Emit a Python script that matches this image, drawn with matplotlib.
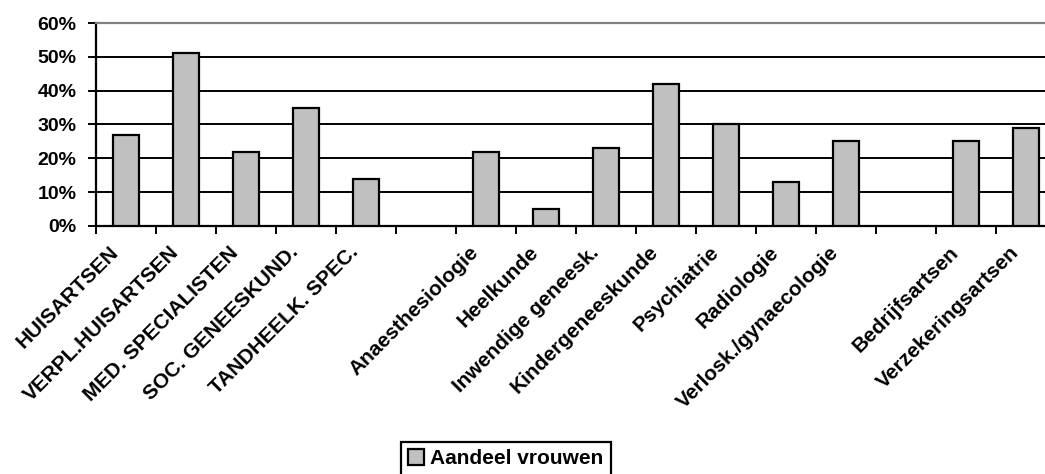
import numpy as np
import matplotlib
matplotlib.use("Agg")
import matplotlib.pyplot as plt
import matplotlib.transforms as mtransforms
from matplotlib.ticker import PercentFormatter

plt.rcParams["font.family"] = ["Liberation Sans", "DejaVu Sans"]
plt.rcParams["font.weight"] = "bold"

# beroepsgroepen, lege plekken als scheiding tussen de groepen
categories = ["HUISARTSEN", "VERPL.HUISARTSEN", "MED. SPECIALISTEN",
              "SOC. GENEESKUND.", "TANDHEELK. SPEC.", "",
              "Anaesthesiologie", "Heelkunde", "Inwendige geneesk.",
              "Kindergeneeskunde", "Psychiatrie", "Radiologie",
              "Verlosk./gynaecologie", "", "Bedrijfsartsen",
              "Verzekeringsartsen"]
aandeel = [27, 51, 22, 35, 14, np.nan, 22, 5, 23, 42, 30, 13, 25, np.nan, 25, 29]
yticks = [0, 10, 20, 30, 40, 50, 60]

fig = plt.figure(figsize=(10.45, 4.74), dpi=100)
ax = fig.add_axes([96 / 1045, 248 / 474, 960 / 1045, 203 / 474])

x = np.arange(len(categories))
ax.bar(x, aandeel, width=0.42, color="#C0C0C0", edgecolor="black",
       linewidth=1.6, zorder=3, label="Aandeel vrouwen")

ax.set_xlim(-0.5, len(categories) - 0.5)
ax.set_ylim(0, 60)
ax.set_yticks(yticks)
ax.yaxis.set_major_formatter(PercentFormatter(decimals=0))
ax.grid(axis="y", color="black", linewidth=1.4, zorder=0)

# streepjes tussen de categorieen, labels in het midden
ax.set_xticks(x)
ax.set_xticks(np.arange(len(categories) + 1) - 0.5, minor=True)
ax.tick_params(axis="x", which="major", length=0, pad=12)
ax.tick_params(axis="x", which="minor", length=6, width=1.4, direction="out")
ax.tick_params(axis="y", length=6, width=1.4, pad=8, labelsize=14)
ax.set_xticklabels(categories, rotation=45, ha="right", rotation_mode="anchor",
                   fontsize=15, fontweight="bold")
# labels iets naar links schuiven
shift = mtransforms.ScaledTranslation(-17 / 100, 0, fig.dpi_scale_trans)
for lbl in ax.get_xticklabels():
    lbl.set_transform(lbl.get_transform() + shift)
for lbl in ax.get_yticklabels():
    lbl.set_fontweight("bold")

for side in ["left", "bottom"]:
    ax.spines[side].set_linewidth(1.6)
ax.spines["top"].set_color("#808080")
ax.spines["top"].set_linewidth(1.6)
ax.spines["right"].set_visible(False)

leg = fig.legend(loc="upper left", bbox_to_anchor=(401 / 1045, 1 - 442 / 474),
                 borderaxespad=0, frameon=True, fancybox=False, framealpha=1,
                 edgecolor="black", handlelength=0.75, handleheight=0.75,
                 handletextpad=0.3, borderpad=0.35,
                 prop={"size": 15, "weight": "bold"})
leg.get_frame().set_linewidth(1.6)

fig.savefig("out.png", dpi=100)
